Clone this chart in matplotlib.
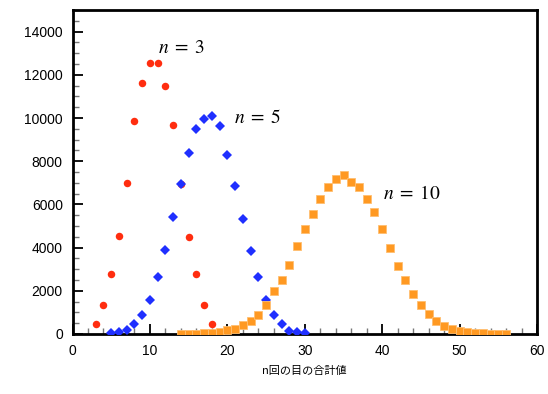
import matplotlib
matplotlib.use("Agg")
import matplotlib.pyplot as plt
from matplotlib.ticker import MultipleLocator

# ---------------------------------------------------------------------------
# Data (counts)
# ---------------------------------------------------------------------------

sum3 = list(range(3, 19))
cnt3 = [450, 1350, 2800, 4540, 6970, 9840, 11620, 12560, 12560, 11500,
        9660, 6940, 4510, 2800, 1350, 450]

sum5 = list(range(5, 31))
cnt5 = [30, 80, 185, 450, 880, 1560, 2640, 3880, 5410, 6940, 8400, 9500,
        9950, 10100, 9640, 8270, 6830, 5320, 3860, 2650, 1575, 880, 460,
        155, 80, 30]

sum10 = list(range(14, 57))
cnt10 = [2, 4, 10, 25, 50, 100, 170, 250, 395, 595, 885, 1330, 1975, 2480,
         3200, 4080, 4880, 5550, 6270, 6815, 7170, 7340, 7050, 6785, 6260,
         5640, 4855, 3990, 3170, 2500, 1855, 1345, 910, 605, 385, 215, 155,
         93, 46, 30, 15, 8, 3]

LABELS = [(r"$n\;=\;3$", 11.0, 13240), (r"$n\;=\;5$", 20.85, 10000), (r"$n\;=\;10$", 40.1, 6480)]

# ---------------------------------------------------------------------------
# Plot
# ---------------------------------------------------------------------------

plt.rcParams["font.family"] = ["Liberation Sans", "Noto Sans CJK JP"]
plt.rcParams["mathtext.fontset"] = "stix"

fig = plt.figure(figsize=(5.48, 3.94), dpi=100)
ax = fig.add_axes([0.1323, 0.1523, 0.8478, 0.8223])

ax.plot(sum3, cnt3, "o", color="#ff2d0f", ms=5.4, mew=0, zorder=3)
ax.plot(sum5, cnt5, "D", color="#1f2fff", ms=5.5, mew=0, zorder=4)
ax.plot(sum10, cnt10, "s", color="#ff9922", mec="#ffbf70", ms=5.2, mew=0.6, zorder=5)

for txt, x, y in LABELS:
    ax.text(x, y, txt, fontsize=14, ha="left", va="center")

ax.set_xlim(0, 60)
ax.set_ylim(0, 15000)
ax.xaxis.set_major_locator(MultipleLocator(10))
ax.xaxis.set_minor_locator(MultipleLocator(2))
ax.yaxis.set_major_locator(MultipleLocator(2000))
ax.yaxis.set_minor_locator(MultipleLocator(500))

ax.tick_params(which="major", direction="in", length=7, width=1.3, color="black",
               labelsize=10, pad=7)
ax.tick_params(which="minor", direction="in", length=4, width=1.0, color="#777777")
ax.tick_params(top=False, right=False, which="both")

for sp in ax.spines.values():
    sp.set_linewidth(2)

ax.set_xlabel("n回の目の合計値", fontsize=8, family=["Noto Sans CJK JP", "DejaVu Sans"],
              labelpad=6)

fig.savefig("out.png", dpi=100)
